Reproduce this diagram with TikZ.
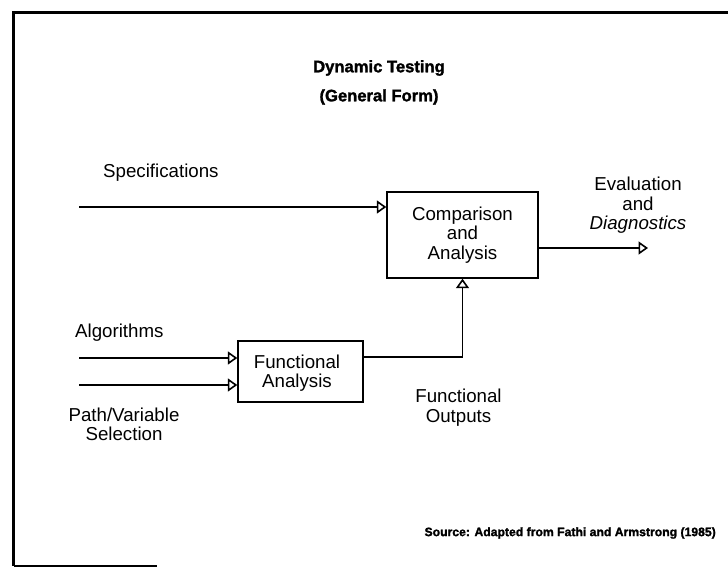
\documentclass[tikz,border=0pt]{standalone}
\usepackage{fontspec}
\setmainfont{Liberation Sans}
\newfontface\heavyfont[FakeBold=1.6]{Liberation Sans Bold}
\usetikzlibrary{arrows.meta}
\begin{document}
\begin{tikzpicture}[x=1pt,y=-1pt,
  lbl/.style={inner sep=0pt,font=\fontsize{18.7}{20}\selectfont,align=center},
  ttl/.style={inner sep=0pt,font=\fontsize{16.6}{20}\heavyfont},
  src/.style={inner sep=0pt,font=\fontsize{12.2}{14}\heavyfont},
  blk/.style={draw,line width=1.4pt,inner sep=0pt},
  arr/.style={line width=1.4pt,-{Triangle[open,length=9.5pt,width=13pt,line width=1.6pt]}},
  wire/.style={line width=1.4pt}]
\useasboundingbox (0,0) rectangle (728,567);
\fill[white] (0,0) rectangle (728,567);

% frame
\draw[line width=3pt] (728,12.5) -- (13.5,12.5) -- (13.5,566);
\draw[line width=1.5pt] (13.5,566) -- (157,566);

% title
\node[ttl] (t1) at (379,68) {Dynamic Testing};
\node[ttl] (t2) at (379,97) {(General Form)};

% blocks
\node[blk,minimum width=151pt,minimum height=86pt] (cmp) at (462.5,235) {};
\node[blk,minimum width=125pt,minimum height=61pt] (fa) at (300.5,371.5) {};

\node[lbl] (cmpt) at (462.5,235) {Comparison\\[-0.5pt]and\\[-0.5pt]Analysis};
\node[lbl] (fat) at (297,373) {Functional\\[-0.5pt]Analysis};

% input / output labels
\node[lbl,anchor=west] (spec) at (103,173) {Specifications};
\node[lbl,anchor=west] (alg) at (75,333) {Algorithms};
\node[lbl] (path) at (124,424.5) {Path/Variable\\[-0.5pt]Selection};
\node[lbl] (fo) at (458.5,407.5) {Functional\\[-0.5pt]Outputs};
\node[lbl] (ev) at (638,205.5) {Evaluation\\[-0.5pt]and\\[-0.5pt]\textit{Diagnostics}};

% free line ends
\coordinate (sIn) at (79,207);
\coordinate (aIn) at (79,358);
\coordinate (pIn) at (79,385);
\coordinate (oOut) at (648,248);
\coordinate (faOut) at (363,357);

% connectors
\draw[arr] (sIn) -- (sIn -| cmp.west);
\draw[arr] (aIn) -- (aIn -| fa.west);
\draw[arr] (pIn) -- (pIn -| fa.west);
\draw[arr] (oOut -| cmp.east) -- (oOut);
\draw[arr] (faOut -| fa.east) -| (cmp.south);

% source note
\node[src,anchor=east] (note) at (716,533) {Source: Adapted from Fathi and Armstrong (1985)};
\end{tikzpicture}
\end{document}
